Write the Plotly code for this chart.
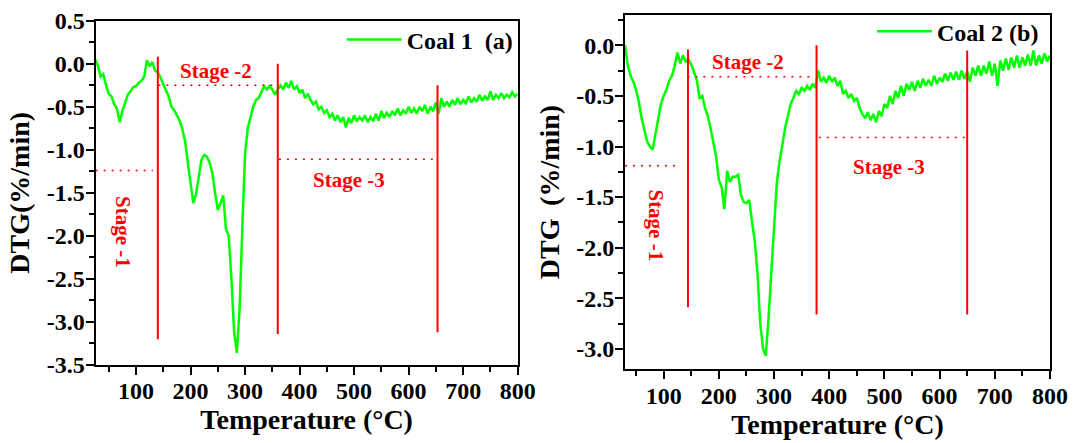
import plotly.graph_objects as go

# ---------------- data ----------------
temp1 = list(range(25, 801, 5))
dtg1 = [
    0.05, -0.02, -0.15, -0.12, -0.25, -0.35, -0.38, -0.47, -0.52, -0.68,
    -0.55, -0.45, -0.36, -0.32, -0.27, -0.26, -0.22, -0.2, -0.15, 0.04,
    -0.03, 0.02, -0.08, -0.1, -0.16, -0.24, -0.32, -0.38, -0.5, -0.54,
    -0.6, -0.66, -0.76, -0.9, -1.15, -1.4, -1.62, -1.52, -1.33, -1.12,
    -1.06, -1.08, -1.15, -1.27, -1.5, -1.7, -1.62, -1.53, -1.92, -2.0,
    -2.5, -3.12, -3.36, -2.85, -1.9, -1.05, -0.75, -0.62, -0.5, -0.42,
    -0.4, -0.33, -0.26, -0.3, -0.26, -0.3, -0.36, -0.3, -0.25, -0.3,
    -0.22, -0.28, -0.2, -0.3, -0.26, -0.34, -0.3, -0.4, -0.35, -0.42,
    -0.47, -0.44, -0.53, -0.5, -0.57, -0.54, -0.62, -0.58, -0.66, -0.6,
    -0.68, -0.62, -0.74, -0.63, -0.69, -0.6, -0.67, -0.62, -0.66, -0.6,
    -0.68, -0.62, -0.67, -0.58, -0.66, -0.55, -0.63, -0.57, -0.62, -0.55,
    -0.6, -0.52, -0.6, -0.54, -0.58, -0.5, -0.57, -0.52, -0.58, -0.5,
    -0.55, -0.48, -0.58, -0.5, -0.55, -0.45, -0.58, -0.4, -0.5, -0.44,
    -0.5, -0.42, -0.48, -0.4, -0.47, -0.42, -0.46, -0.38, -0.45, -0.4,
    -0.44, -0.36, -0.43, -0.38, -0.42, -0.32, -0.42, -0.36, -0.4, -0.34,
    -0.4, -0.36, -0.39, -0.33, -0.38, -0.35,
]

temp2 = list(range(30, 801, 5))
dtg2 = [
    0.0, -0.2, -0.3, -0.36, -0.44, -0.56, -0.72, -0.85, -0.95, -1.0,
    -1.03, -0.88, -0.72, -0.58, -0.5, -0.44, -0.35, -0.3, -0.2, -0.07,
    -0.18, -0.1, -0.16, -0.14, -0.19, -0.26, -0.34, -0.52, -0.5, -0.62,
    -0.7, -0.82, -0.95, -1.1, -1.33, -1.4, -1.62, -1.24, -1.35, -1.3,
    -1.3, -1.28, -1.48, -1.55, -1.56, -1.53, -1.74, -1.93, -2.25, -2.75,
    -3.0, -3.07, -2.7, -2.25, -1.8, -1.36, -1.15, -0.98, -0.82, -0.7,
    -0.58, -0.52, -0.45, -0.48, -0.42, -0.45, -0.4, -0.44, -0.38, -0.42,
    -0.25, -0.36, -0.32, -0.37, -0.3, -0.36, -0.32, -0.4, -0.35, -0.48,
    -0.45, -0.52, -0.48, -0.55, -0.52, -0.62, -0.68, -0.72, -0.66, -0.74,
    -0.68, -0.76, -0.65, -0.7, -0.58, -0.62, -0.5, -0.58, -0.45, -0.52,
    -0.4, -0.5, -0.38, -0.44, -0.36, -0.45, -0.35, -0.42, -0.33, -0.4,
    -0.34, -0.4, -0.3, -0.38, -0.32, -0.36, -0.28, -0.35, -0.27, -0.34,
    -0.26, -0.34, -0.25, -0.33, -0.26, -0.36, -0.22, -0.3, -0.2, -0.3,
    -0.2, -0.28, -0.16, -0.3, -0.18, -0.4, -0.15, -0.25, -0.13, -0.24,
    -0.12, -0.22, -0.1, -0.22, -0.12, -0.2, -0.09, -0.2, -0.05, -0.2,
    -0.1, -0.18, -0.08, -0.16, -0.1,
]

stage_labels = ["Stage -1", "Stage -2", "Stage -3"]

# Coal 1 stage markers
bounds_1 = [140, 360, 653]
bound_top_1 = [0.08, 0.0, -0.25]
bound_bot_1 = [-3.2, -3.14, -3.12]
level_y_1 = [-1.24, -0.25, -1.11]
level_x0_1 = [26, 141, 362]
level_x1_1 = [131, 352, 648]
label_x_1 = [75, 246, 490]
label_y_1 = [-1.96, -0.09, -1.355]

# Coal 2 stage markers
bounds_2 = [144, 377, 650]
bound_top_2 = [-0.04, 0.0, -0.05]
bound_bot_2 = [-2.59, -2.66, -2.66]
level_y_2 = [-1.19, -0.31, -0.91]
level_x0_2 = [30, 143, 381]
level_x1_2 = [130, 372, 650]
label_x_2 = [86, 253, 508]
label_y_2 = [-1.78, -0.165, -1.2]

ytick_vals_1 = [0.5, 0.0, -0.5, -1.0, -1.5, -2.0, -2.5, -3.0, -3.5]
ytick_text_1 = ["0.5", "0.0", "-0.5", "-1.0", "-1.5", "-2.0", "-2.5", "-3.0", "-3.5"]
ytick_vals_2 = [0.0, -0.5, -1.0, -1.5, -2.0, -2.5, -3.0]
ytick_text_2 = ["0.0", "-0.5", "-1.0", "-1.5", "-2.0", "-2.5", "-3.0"]

# ---------------- styling ----------------
FONT = "Liberation Serif, Times New Roman, serif"
GREEN = "#00FF00"
RED = "#FF0000"

fig = go.Figure()
fig.add_trace(go.Scatter(x=temp1, y=dtg1, mode="lines", name="Coal 1\u00a0 (a)",
                         line=dict(color=GREEN, width=2.5), xaxis="x", yaxis="y",
                         legend="legend"))
fig.add_trace(go.Scatter(x=temp2, y=dtg2, mode="lines", name="Coal 2 (b)",
                         line=dict(color=GREEN, width=2.5), xaxis="x2", yaxis="y2",
                         legend="legend2"))

shapes = []
annotations = []
for xr, yr, bx, bt, bb, ly, lx0, lx1, tx, ty in [
    ("x", "y", bounds_1, bound_top_1, bound_bot_1, level_y_1, level_x0_1, level_x1_1, label_x_1, label_y_1),
    ("x2", "y2", bounds_2, bound_top_2, bound_bot_2, level_y_2, level_x0_2, level_x1_2, label_x_2, label_y_2),
]:
    for i in range(3):
        shapes.append(dict(type="line", xref=xr, yref=yr, x0=bx[i], x1=bx[i], y0=bb[i], y1=bt[i],
                           line=dict(color=RED, width=2)))
        shapes.append(dict(type="line", xref=xr, yref=yr, x0=lx0[i], x1=lx1[i], y0=ly[i], y1=ly[i],
                           line=dict(color=RED, width=1.5, dash="2px,6px")))
        annotations.append(dict(x=tx[i], y=ty[i], xref=xr, yref=yr, text=stage_labels[i],
                                showarrow=False, textangle=90 if i == 0 else 0,
                                font=dict(family=FONT, size=21, color=RED, weight="bold")))

axis_common = dict(showline=True, linewidth=2, linecolor="black", mirror=True,
                   ticks="outside", ticklen=8, tickwidth=2, tickcolor="black",
                   ticklabelposition="outside",
                   showgrid=False, zeroline=False, automargin=False,
                   tickfont=dict(family=FONT, size=24, color="black", weight="bold"),
                   title_font=dict(family=FONT, size=28, color="black", weight="bold"))
minor_x = dict(ticks="outside", dtick=50, ticklen=5, tickwidth=2, tickcolor="black")
minor_y = dict(ticks="outside", dtick=0.25, ticklen=5, tickwidth=2, tickcolor="black")

fig.update_layout(
    width=1076, height=443,
    margin=dict(l=0, r=0, t=0, b=0),
    paper_bgcolor="white", plot_bgcolor="white",
    shapes=shapes, annotations=annotations,
    xaxis=dict(domain=[0.0889, 0.4811], range=[26, 800], anchor="y",
               tick0=0, dtick=100, minor=minor_x, ticklabelstandoff=-5,
               title=dict(text="Temperature (°C)", standoff=2), **axis_common),
    yaxis=dict(domain=[0.1761, 0.9533], range=[-3.5, 0.5], anchor="x",
               tickvals=ytick_vals_1, ticktext=ytick_text_1, minor=minor_y,
               ticklabelstandoff=-4,
               title=dict(text="DTG(%/min)\u2002", standoff=9), **axis_common),
    xaxis2=dict(domain=[0.5809, 0.9758], range=[30, 800], anchor="y2",
                tick0=0, dtick=100, minor=minor_x, ticklabelstandoff=-4,
                title=dict(text="Temperature (°C)", standoff=6), **axis_common),
    yaxis2=dict(domain=[0.167, 0.9661], range=[-3.2, 0.3], anchor="x2",
                tickvals=ytick_vals_2, ticktext=ytick_text_2, minor=minor_y,
                ticklabelstandoff=-4,
                title=dict(text="DTG \u2009(%/min)\u2002", standoff=8), **axis_common),
    legend=dict(x=0.4811, y=0.9097, xanchor="right", yanchor="middle", itemwidth=55,
                bgcolor="rgba(0,0,0,0)", borderwidth=0,
                font=dict(family=FONT, size=24, color="black", weight="bold")),
    legend2=dict(x=0.9703, y=0.9284, xanchor="right", yanchor="middle", itemwidth=55,
                 bgcolor="rgba(0,0,0,0)", borderwidth=0,
                 font=dict(family=FONT, size=24, color="black", weight="bold")),
    showlegend=True,
)

fig.write_html("out.html")
